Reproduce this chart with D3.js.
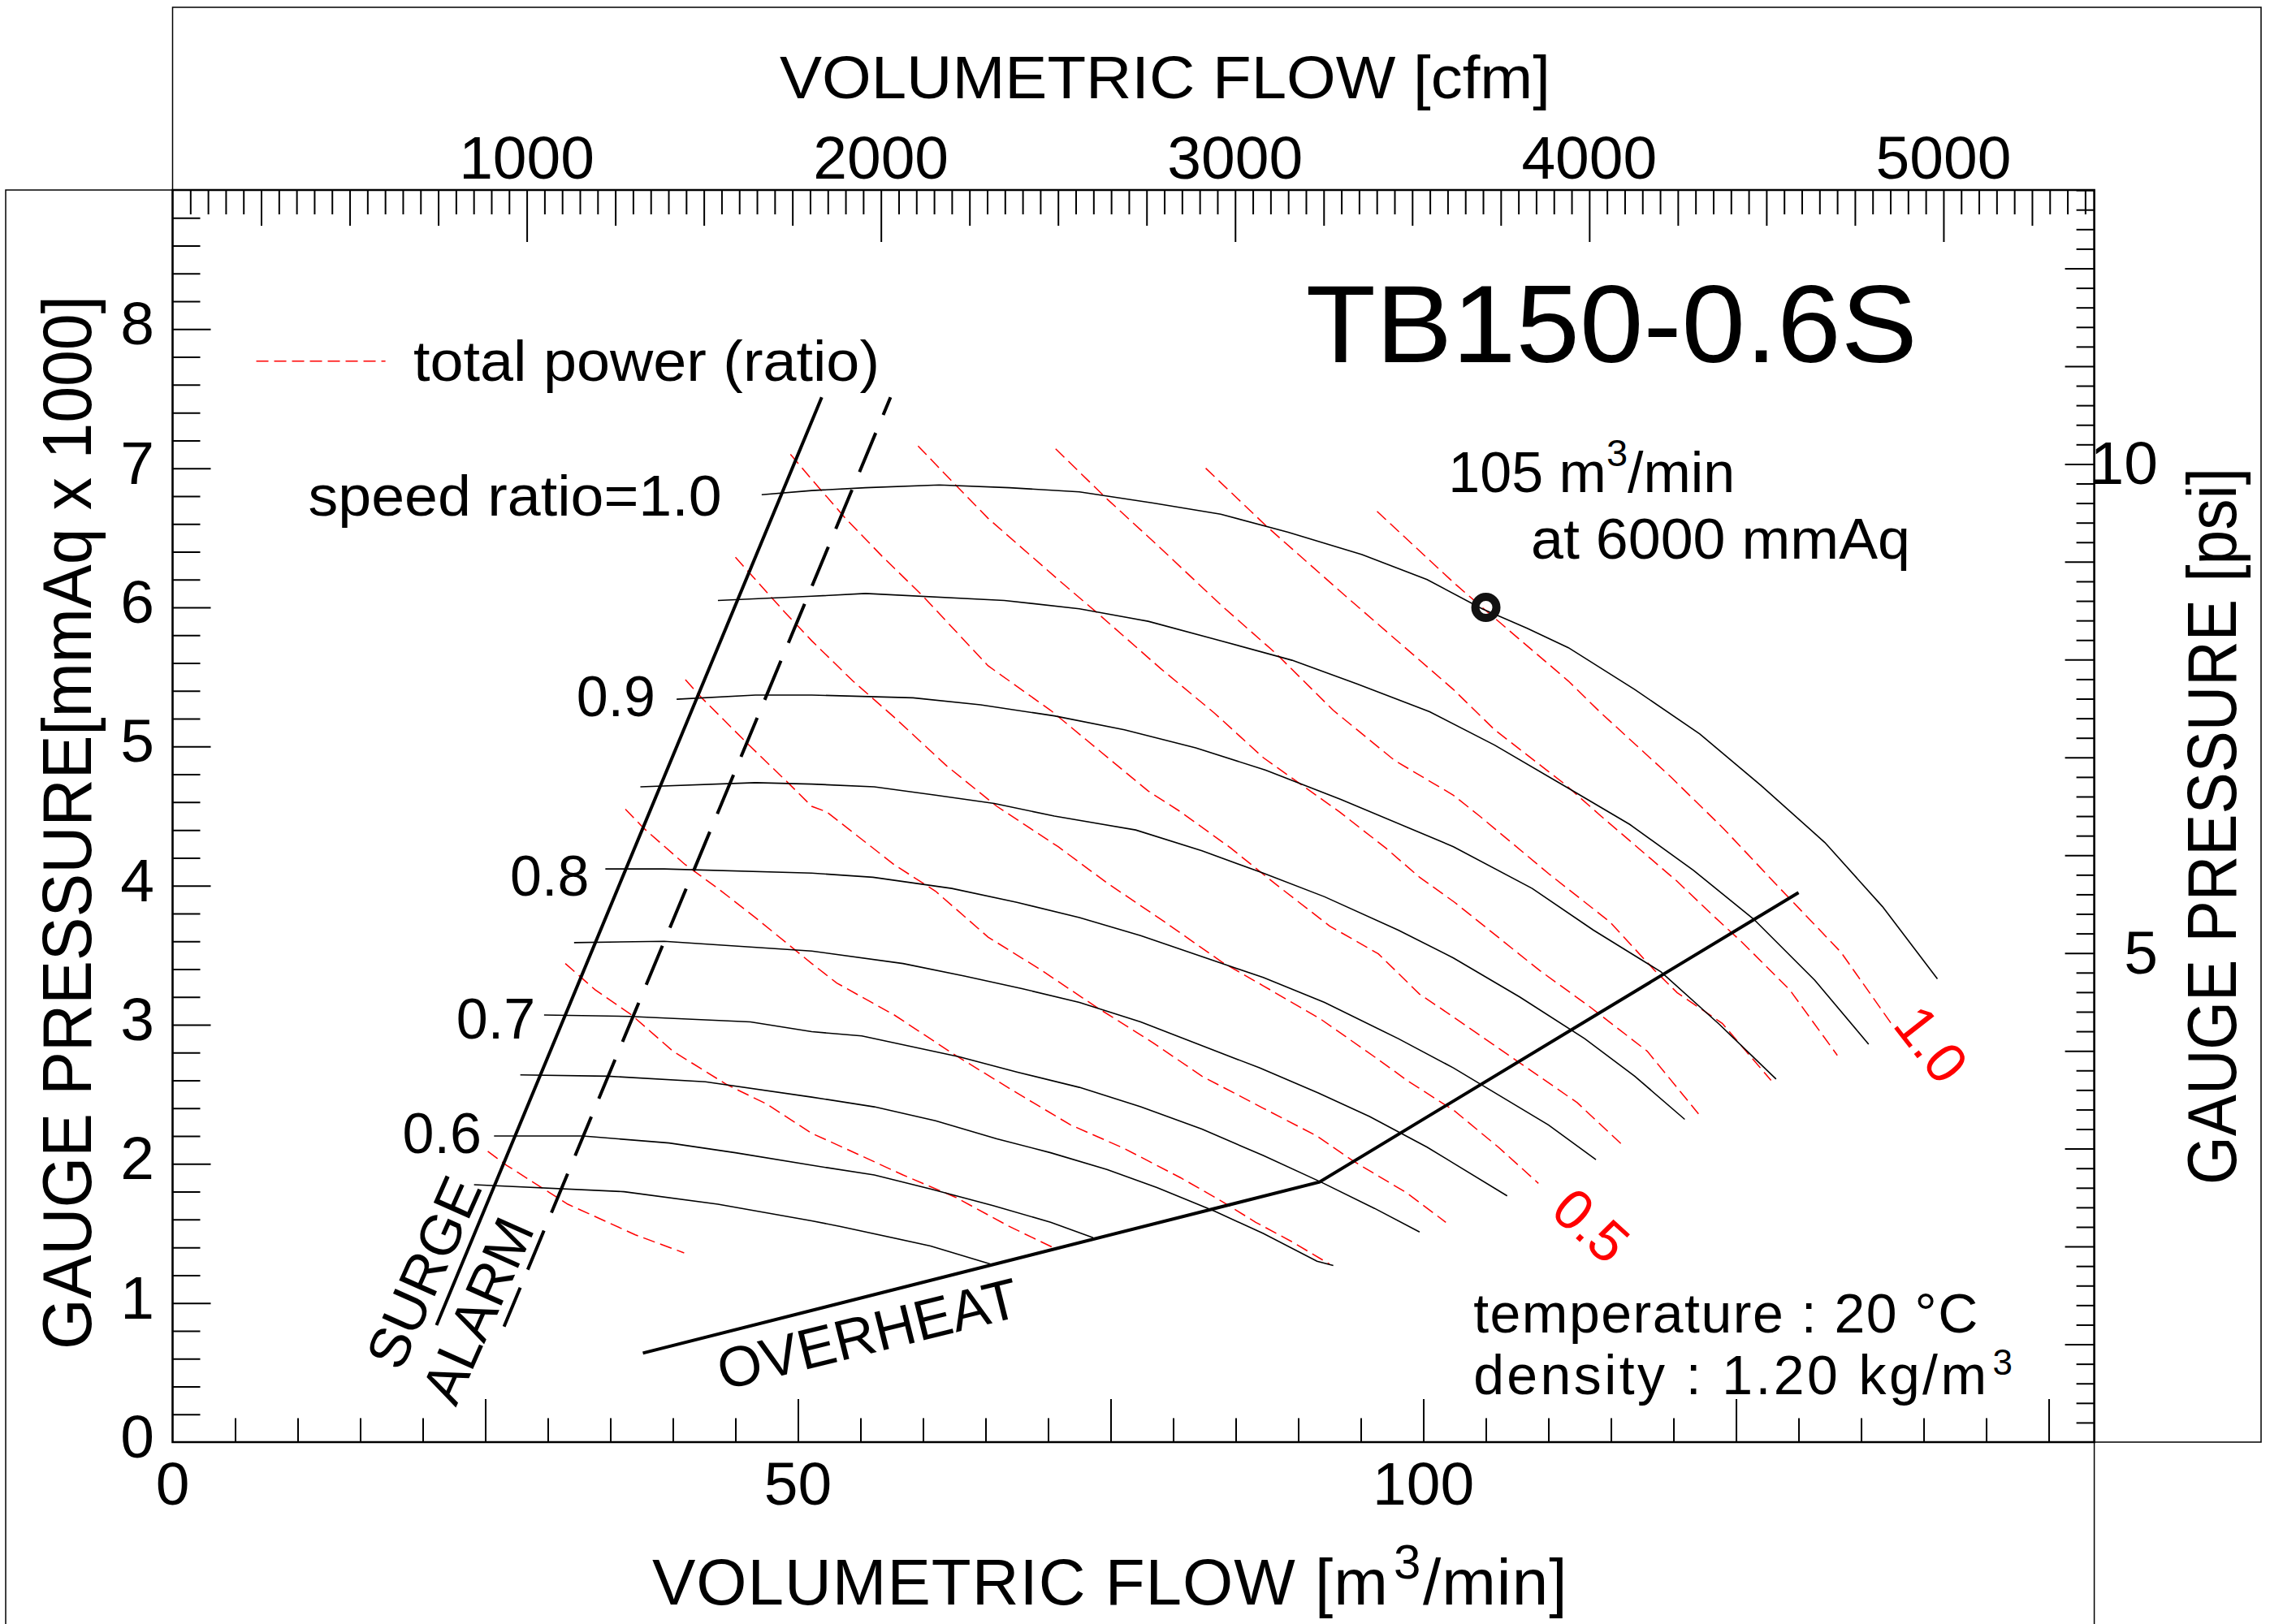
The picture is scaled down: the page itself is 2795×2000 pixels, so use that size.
<!DOCTYPE html>
<html lang="en">
<head>
<meta charset="UTF-8">
<title>TB150-0.6S</title>
<script src="https://cdn.jsdelivr.net/npm/d3@7"></script>
<style>
body { margin: 0; background: #fff; }
svg { display: block; background: #fff; font-family: "Liberation Sans", Arial, sans-serif; }
</style>
</head>
<body>
<script>
// flow Q [m3/min], gauge pressure P [mmAq x 1000]
const speedNames = ["1.0", "0.95", "0.9", "0.85", "0.8", "0.75", "0.7", "0.65", "0.6", "0.55"];
const sr100 = [[47.1,6.81],[51.1,6.84],[55.4,6.86],[61.3,6.88],[66.9,6.86],[72.5,6.83],[78.4,6.75],[83.8,6.67],[89.2,6.54],[95.1,6.38],[100.3,6.2],[104.7,5.99],[108.3,5.85],[111.6,5.71],[116.9,5.41],[122.1,5.09],[127,4.72],[132.1,4.31],[136.7,3.85],[141.1,3.33]];
const sr095 = [[43.6,6.05],[51.1,6.08],[55.4,6.1],[66.5,6.05],[72.5,5.99],[78,5.9],[83.4,5.77],[89.5,5.62],[94.7,5.45],[100.5,5.25],[105.7,5.01],[111.6,4.7],[116.5,4.44],[121.6,4.11],[126.4,3.76],[131.3,3.32],[135.6,2.86]];
const sr090 = [[40.3,5.34],[46.6,5.37],[51.1,5.37],[59.2,5.35],[64.6,5.3],[70.5,5.22],[76.1,5.12],[81.8,4.99],[87.4,4.83],[93.4,4.62],[98.7,4.42],[102.4,4.28],[108.7,3.98],[113.6,3.68],[119,3.38],[123.7,3.0],[128.2,2.61]];
const sr085 = [[37.4,4.71],[46.6,4.74],[51.1,4.73],[56.1,4.71],[61,4.65],[65.7,4.59],[70.5,4.5],[77,4.4],[82.3,4.25],[87.2,4.09],[92.1,3.92],[98,3.68],[102.4,3.48],[107.7,3.2],[112.9,2.9],[116.9,2.63],[120.9,2.32]];
const sr080 = [[34.6,4.12],[39.3,4.12],[51.1,4.09],[56,4.06],[62.3,3.98],[67.5,3.88],[72.5,3.77],[77.4,3.64],[83.9,3.44],[87.2,3.34],[92.1,3.16],[98,2.9],[102.4,2.69],[110,2.28],[113.8,2.03]];
const sr075 = [[32.1,3.59],[39.3,3.6],[51.1,3.53],[58.4,3.44],[63.3,3.35],[67.9,3.26],[72.5,3.16],[77.4,3.02],[82.3,2.85],[86.9,2.69],[91.6,2.51],[95.7,2.34],[100.3,2.12],[102.5,2.0],[106.7,1.77]];
const sr070 = [[29.7,3.07],[36.5,3.06],[46.2,3.02],[51.1,2.95],[55.1,2.92],[62.9,2.77],[67.5,2.66],[72.5,2.55],[77.4,2.41],[82.3,2.25],[87.2,2.06],[91.8,1.87],[96.1,1.68],[99.7,1.51]];
const sr065 = [[27.8,2.64],[34.8,2.63],[42.6,2.59],[51.1,2.48],[56.1,2.41],[61,2.31],[65.9,2.18],[70.2,2.08],[74.7,1.96],[78.7,1.83],[83.3,1.66],[87.2,1.5],[91.5,1.3],[92.8,1.27]];
const sr060 = [[25.7,2.2],[32.8,2.2],[39.7,2.15],[45,2.08],[51.1,1.99],[56.1,1.92],[60.6,1.82],[65.6,1.7],[70.2,1.58],[73.6,1.47]];
const sr055 = [[24.1,1.85],[36.1,1.8],[43.6,1.71],[51.1,1.59],[53.4,1.55],[60.6,1.41],[65.4,1.28]];

// total power ratio lines 0.1 .. 1.0
const pw01 = [[25.2,2.09],[26.7,1.99],[31.6,1.71],[37,1.49],[40.9,1.36]];
const pw02 = [[31.4,3.44],[33.8,3.25],[36.7,3.07],[40,2.81],[44.3,2.57],[47.5,2.43],[51.1,2.22],[53.8,2.11],[58.4,1.92],[62.6,1.76],[66.9,1.55],[70.6,1.39]];
const pw03 = [[36.2,4.55],[37.7,4.41],[41,4.15],[43.6,3.98],[46.6,3.77],[51.1,3.44],[53.1,3.3],[57.7,3.07],[62.6,2.78],[67.5,2.51],[71.8,2.28],[76.1,2.11],[80.6,1.9],[83.9,1.73],[86.6,1.58],[89.5,1.44],[92.5,1.28]];
const pw04 = [[41,5.48],[42.3,5.35],[46.2,5.0],[49.2,4.74],[51.1,4.57],[52.3,4.53],[57.7,4.15],[61,3.96],[65.2,3.63],[69.5,3.39],[73.8,3.13],[78.4,2.87],[82.3,2.63],[87.2,2.4],[91.5,2.2],[94.4,2.02],[98.7,1.79],[101.8,1.58]];
const pw05 = [[45,6.36],[48.9,5.97],[51.1,5.76],[54.4,5.47],[57.7,5.21],[61.9,4.86],[65.9,4.57],[70.8,4.28],[74.7,4.02],[79.3,3.74],[83.9,3.45],[87.2,3.28],[91.8,3.04],[96.4,2.75],[98.7,2.6],[102.5,2.38],[106,2.12],[109.2,1.86]];
const pw06 = [[49.4,7.1],[51.1,6.92],[53.8,6.64],[56.7,6.37],[60,6.08],[65.2,5.58],[70.2,5.26],[74.1,4.97],[78,4.68],[80.6,4.53],[84.6,4.27],[88.2,4.01],[92.5,3.71],[96.4,3.51],[99.7,3.22],[102.5,3.05],[112.3,2.44],[116.1,2.12]];
const pw07 = [[59.6,7.16],[62.6,6.88],[65.2,6.64],[70.8,6.2],[73.8,5.97],[79,5.56],[83.3,5.24],[87.2,4.92],[93.3,4.53],[97,4.27],[99.7,4.06],[102.5,3.88],[109.3,3.39],[113.3,3.13],[117.9,2.81],[122,2.36]];
const pw08 = [[70.6,7.14],[74.7,6.78],[78.7,6.45],[83.9,6.01],[88.2,5.67],[92.8,5.26],[97.7,4.9],[102.4,4.65],[104.5,4.5],[110.1,4.08],[114.9,3.74],[118.5,3.39],[120.3,3.23],[123.9,3.01],[127.8,2.6]];
const pw09 = [[82.6,7.0],[87.5,6.58],[93.8,6.08],[102.4,5.41],[105.7,5.12],[111.3,4.73],[114.2,4.5],[120.3,4.03],[123.1,3.79],[125.4,3.6],[129.3,3.25],[133.1,2.78]];
const pw10 = [[96.3,6.69],[102.4,6.18],[104.7,6.0],[111.6,5.47],[114.1,5.25],[119.8,4.78],[124,4.41],[128.3,4.0],[133.4,3.52],[137.4,3.01]];

const surge = [[21.1,0.84],[51.9,7.51]];
const alarm = [[26.5,0.83],[57.4,7.51]];
const overheat = [[37.6,0.64],[91.7,1.87],[130,3.95]];
const ratedPoint = [105, 6.0];

const flowTicks = [0, 50, 100];
const pressTicks = [0, 1, 2, 3, 4, 5, 6, 7, 8];
const cfmTicks = [1000, 2000, 3000, 4000, 5000];
const psiTicks = [5, 10];

// labels next to the speed curves: [text, Q, P] (end of text, baseline)
const speedLabels = [["speed ratio=1.0", 43.9, 6.66, 509], ["0.9", 38.6, 5.22], ["0.8", 33.3, 3.93], ["0.7", 29.0, 2.90], ["0.6", 24.7, 2.08]];

const W = 2795, H = 2000;
const L = 212.5, R = 2578.6, T = 234, B = 1776;
const x = d3.scaleLinear().domain([0, 153.64]).range([L, R]);
const y = d3.scaleLinear().domain([0, 9]).range([B, T]);
const xc = d3.scaleLinear().domain([0, 153.64 * 35.3147]).range([L, R]);
const yp = d3.scaleLinear().domain([0, 9000 / 703.07]).range([B, T]);

const svg = d3.select("body").append("svg").attr("width", W).attr("height", H);

// outer frames
svg.append("path")
    .attr("d", `M${L},9 H2784 V${B} H${L} Z M7,${H} V${T} H${R} V${H}`)
    .attr("fill", "none").attr("stroke", "#000").attr("stroke-width", 1.5);
svg.append("rect").attr("x", L).attr("y", T).attr("width", R - L).attr("height", B - T)
    .attr("fill", "none").attr("stroke", "#000").attr("stroke-width", 2.5);

function tickSet(gen, vals, size, tr) {
    svg.append("g").attr("transform", tr)
        .call(gen.tickValues(vals).tickSize(size).tickFormat(""))
        .call(g => g.select(".domain").remove())
        .selectAll("line").attr("stroke-width", 2);
}
const five = d3.range(1, 31).map(i => i * 5);
tickSet(d3.axisTop(x), five.filter(v => v % 25), 29.5, `translate(0,${B})`);
tickSet(d3.axisTop(x), five.filter(v => !(v % 25)), 53, `translate(0,${B})`);
const fifth = d3.range(1, 45).map(i => i / 5);
tickSet(d3.axisRight(y), fifth.filter((v, i) => (i + 1) % 5), 34, `translate(${L},0)`);
tickSet(d3.axisRight(y), d3.range(1, 9), 47, `translate(${L},0)`);
const cfm50 = d3.range(1, 109).map(i => i * 50);
tickSet(d3.axisBottom(xc), cfm50.filter(v => v % 250), 30, `translate(0,${T})`);
tickSet(d3.axisBottom(xc), cfm50.filter(v => !(v % 250) && v % 1000), 44, `translate(0,${T})`);
tickSet(d3.axisBottom(xc), cfm50.filter(v => !(v % 1000)), 64, `translate(0,${T})`);
const psi02 = d3.range(1, 65).map(i => i / 5);
tickSet(d3.axisLeft(yp), psi02.filter((v, i) => (i + 1) % 5), 22, `translate(${R},0)`);
tickSet(d3.axisLeft(yp), d3.range(1, 13), 36, `translate(${R},0)`);

function txt(s, px, py, size, opts = {}) {
    const t = svg.append("text").attr("x", px).attr("y", py)
        .attr("font-size", size).attr("fill", opts.fill || "#000")
        .attr("text-anchor", opts.anchor || "start").text(s);
    if (opts.len) t.attr("textLength", opts.len).attr("lengthAdjust", "spacingAndGlyphs");
    if (opts.tr) t.attr("transform", opts.tr);
    if (opts.base) t.attr("dominant-baseline", opts.base);
    if (opts.ls) t.attr("letter-spacing", opts.ls);
    return t;
}

// tick labels
pressTicks.forEach(v => txt(v, 190, y(v) + 19, 75, { anchor: "end" }));
flowTicks.forEach(v => txt(v, x(v), 1853, 75, { anchor: "middle" }));
cfmTicks.forEach(v => txt(v, xc(v), 220, 75, { anchor: "middle" }));
psiTicks.forEach(v => txt(v, 2657, yp(v) + 25, 75, { anchor: "end" }));

// axis titles
txt("VOLUMETRIC FLOW [cfm]", 1434.5, 121, 75, { anchor: "middle", len: 949 });
const bt = txt("VOLUMETRIC FLOW [m", 803, 1976, 80, { ls: 1 });
bt.append("tspan").attr("font-size", 60).attr("x", 1716).attr("y", 1944).text("3");
bt.append("tspan").attr("x", 1752).attr("y", 1976).text("/min]");
txt("GAUGE PRESSURE[mmAq x 1000]", 0, 0, 86, { anchor: "middle", len: 1298, tr: "translate(112,1013) rotate(-90)" });
txt("GAUGE PRESSURE [psi]", 0, 0, 86, { anchor: "middle", len: 883, tr: "translate(2753,1017.5) rotate(-90)" });

// curves
const line = d3.line().x(d => x(d[0])).y(d => y(d[1]));
const powerLines = [pw01, pw02, pw03, pw04, pw05, pw06, pw07, pw08, pw09, pw10];
const speedCurves = [sr100, sr095, sr090, sr085, sr080, sr075, sr070, sr065, sr060, sr055];

svg.append("g").selectAll("path").data(powerLines).join("path")
    .attr("d", line).attr("fill", "none").attr("stroke", "#ff0000")
    .attr("stroke-width", 1.5).attr("stroke-dasharray", "15,7");

svg.append("g").selectAll("path").data(speedCurves).join("path")
    .attr("d", line).attr("fill", "none").attr("stroke", "#000").attr("stroke-width", 1.6);

svg.append("path").datum(surge).attr("d", line).attr("fill", "none")
    .attr("stroke", "#000").attr("stroke-width", 4);
svg.append("path").datum(alarm).attr("d", line).attr("fill", "none")
    .attr("stroke", "#000").attr("stroke-width", 4).attr("stroke-dasharray", "52,24");
svg.append("path").datum(overheat).attr("d", line).attr("fill", "none")
    .attr("stroke", "#000").attr("stroke-width", 4);

svg.append("circle").attr("cx", x(ratedPoint[0])).attr("cy", y(ratedPoint[1])).attr("r", 13)
    .attr("fill", "none").attr("stroke", "#111").attr("stroke-width", 10);

// labels
speedLabels.forEach(d => txt(d[0], x(d[1]), y(d[2]), 70, { anchor: "end", len: d[3] }));
txt("TB150-0.6S", x(90.6), y(7.76), 135, { len: 753 });
svg.append("line").attr("x1", x(6.69)).attr("x2", x(17.02)).attr("y1", y(7.77)).attr("y2", y(7.77))
    .attr("stroke", "#ff0000").attr("stroke-width", 1.6).attr("stroke-dasharray", "15,7");
txt("total power (ratio)", x(19.25), y(7.63), 70, { len: 574 });

const t1 = txt("105 m", x(102.0), y(6.83), 70);
t1.append("tspan").attr("font-size", 47).attr("dy", -32).text("3");
t1.append("tspan").attr("dy", 32).text("/min");
txt("at 6000 mmAq", x(108.6), y(6.35), 70, { len: 467 });

// conditions block
txt("temperature : 20 °C", x(104.0), 1641, 68, { ls: 1.5 });
const t2 = txt("density : 1.20 kg/m", x(104.0), 1717, 68, { ls: 3.4 });
t2.append("tspan").attr("font-size", 44).attr("dx", 4).attr("dy", -24).text("3");

txt("0.5", x(113.4), y(1.556), 70, { fill: "#ff0000", anchor: "middle", base: "central",
    tr: `rotate(42,${x(113.4)},${y(1.556)})` });
txt("1.0", x(140.6), y(2.86), 70, { fill: "#ff0000", anchor: "middle", base: "central",
    tr: `rotate(52,${x(140.6)},${y(2.86)})` });

txt("SURGE", x(20.1), y(1.22), 70, { anchor: "middle", base: "central", tr: `rotate(-66,${x(20.1)},${y(1.22)})` });
txt("ALARM", x(24.4), y(0.946), 70, { anchor: "middle", base: "central", tr: `rotate(-66,${x(24.4)},${y(0.946)})` });
txt("OVERHEAT", x(55.6), y(0.776), 70, { anchor: "middle", base: "central", tr: `rotate(-14,${x(55.6)},${y(0.776)})` });
</script>
</body>
</html>
